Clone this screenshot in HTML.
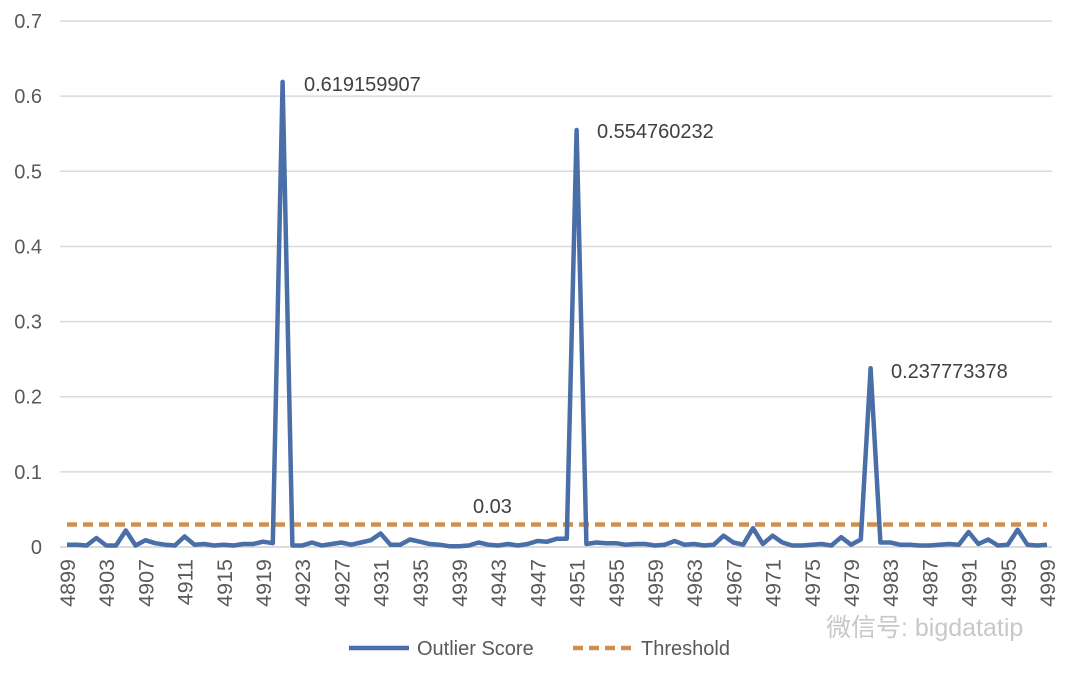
<!DOCTYPE html><html><head><meta charset="utf-8"><style>body{margin:0;background:#fff}svg text{font-family:"Liberation Sans","Noto Sans CJK SC",sans-serif;fill:#595959}</style></head><body>
<svg id="s" width="1078" height="676" xmlns="http://www.w3.org/2000/svg"></svg>
<script>
const s=document.getElementById('s');let h='';
const y0=547,py=751.4,x0=67,dx=9.8;
for(let i=1;i<=7;i++){const y=y0-i*0.1*py;h+=`<line x1="60" x2="1052" y1="${y}" y2="${y}" stroke="#d9d9d9" stroke-width="1.5"/>`;}
h+=`<line x1="60" x2="1052" y1="${y0}" y2="${y0}" stroke="#d0d0d0" stroke-width="1.5"/>`;
for(let i=0;i<=7;i++){const y=y0-i*0.1*py;h+=`<text x="42" y="${y+7}" font-size="20" text-anchor="end">${i==0?'0':(i/10).toFixed(1)}</text>`;}
for(let v=4899;v<=4999;v+=4){const x=x0+(v-4899)*dx;h+=`<text transform="translate(${x+8},${559}) rotate(-90)" font-size="21.5" text-anchor="end">${v}</text>`;}
const d={0:.003,1:.003,2:.002,3:.012,4:.002,5:.002,6:.022,7:.002,8:.009,9:.005,10:.003,11:.002,12:.014,13:.003,14:.004,15:.002,16:.003,17:.002,18:.004,19:.004,20:.007,21:.005,22:.619,23:.002,24:.002,25:.006,26:.002,27:.004,28:.006,29:.003,30:.006,31:.009,32:.018,33:.003,34:.003,35:.01,36:.007,37:.004,38:.003,39:.001,40:.001,41:.002,42:.006,43:.003,44:.002,45:.004,46:.002,47:.004,48:.008,49:.007,50:.011,51:.011,52:.555,53:.004,54:.006,55:.005,56:.005,57:.003,58:.004,59:.004,60:.002,61:.003,62:.008,63:.003,64:.004,65:.002,66:.003,67:.015,68:.006,69:.003,70:.025,71:.004,72:.015,73:.006,74:.002,75:.002,76:.003,77:.004,78:.002,79:.013,80:.003,81:.01,82:.238,83:.006,84:.006,85:.003,86:.003,87:.002,88:.002,89:.003,90:.004,91:.003,92:.02,93:.004,94:.01,95:.002,96:.003,97:.023,98:.003,99:.002,100:.003};
let p='';for(let i=0;i<=100;i++)p+=(i?'L':'M')+(x0+i*dx).toFixed(1)+','+(y0-d[i]*py).toFixed(1);
h+=`<line x1="${x0}" x2="1047" y1="${y0-0.03*py}" y2="${y0-0.03*py}" stroke="#d08f50" stroke-width="4.5" stroke-dasharray="10,6"/>`;
h+=`<path d="${p}" fill="none" stroke="#4a6ea8" stroke-width="4.5" stroke-linejoin="round"/>`;
h+=`<text x="304" y="91" font-size="20" style="fill:#404040">0.619159907</text><text x="597" y="138" font-size="20" style="fill:#404040">0.554760232</text><text x="891" y="378" font-size="20" style="fill:#404040">0.237773378</text><text x="473" y="513" font-size="20" style="fill:#404040">0.03</text>`;
h+=`<line x1="349" x2="409" y1="648" y2="648" stroke="#4a6ea8" stroke-width="4.5"/><text x="417" y="655" font-size="20">Outlier Score</text>`;
h+=`<line x1="573" x2="633" y1="648" y2="648" stroke="#d08f50" stroke-width="4.5" stroke-dasharray="10,6"/><text x="641" y="655" font-size="20">Threshold</text>`;
h+=`<text x="826" y="636" font-size="25" style="fill:#c8c8c8">微信号: bigdatatip</text>`;
s.innerHTML=h;
</script></body></html>
